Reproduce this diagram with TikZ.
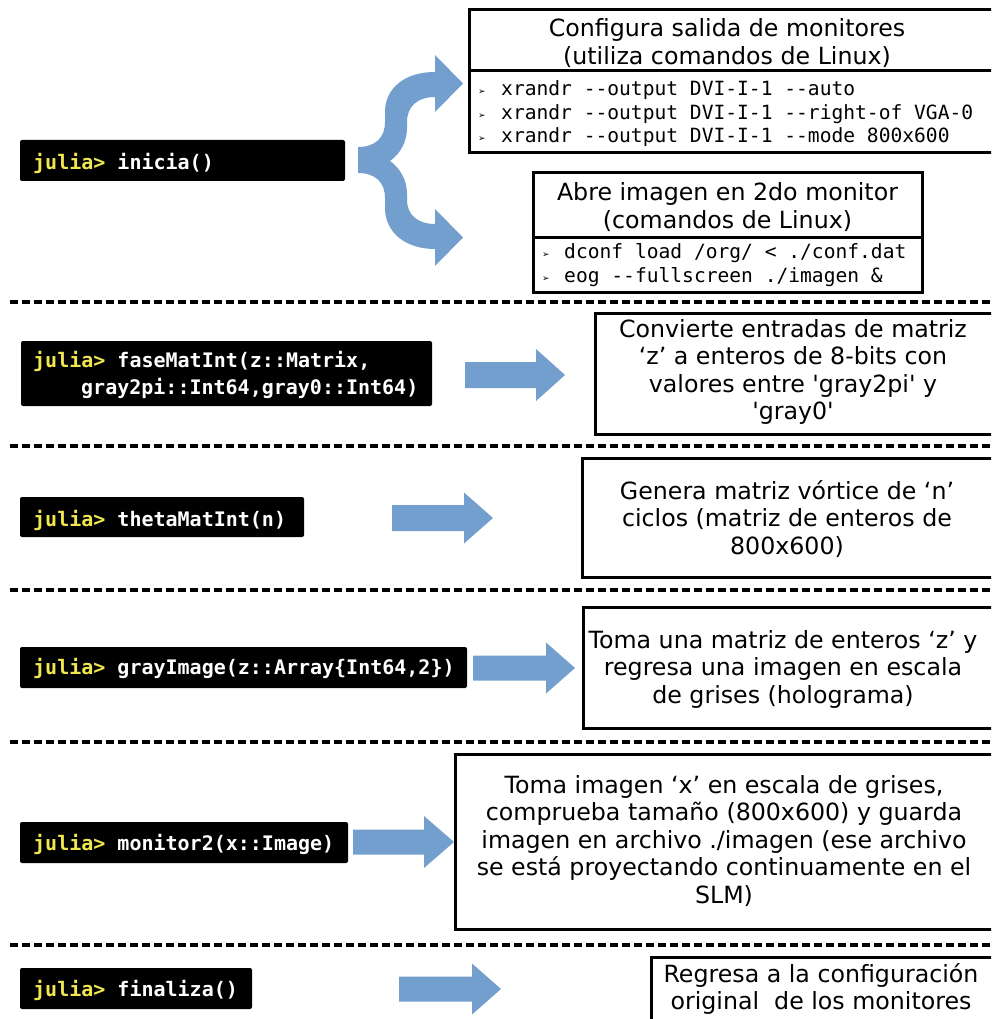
\documentclass[tikz,border=0pt]{standalone}
\usepackage{fontspec}
\setmainfont{DejaVu Sans}
\setmonofont{DejaVu Sans Mono}
\definecolor{arrowblue}{RGB}{115,159,207}
\definecolor{jy}{RGB}{240,230,80}
\newcommand{\barrow}[6]{%
  \fill[arrowblue] (#1,#4-#5) -- (#2,#4-#5) -- (#2,#4-#6) -- (#3,#4) -- (#2,#4+#6) -- (#2,#4+#5) -- (#1,#4+#5) -- cycle;}
\tikzset{
  descbox/.style={draw=black, line width=3pt, fill=white},
  jbox/.style={fill=black, rounded corners=2pt},
  jtext/.style={anchor=base west, inner sep=0pt, text=white, font=\ttfamily\bfseries\fontsize{20}{27}\selectfont},
  desc/.style={align=center, inner sep=0pt, font=\fontsize{23.7}{27.5}\selectfont},
  code/.style={anchor=base west, inner sep=0pt, font=\ttfamily\fontsize{19.6}{23.5}\selectfont},
  bul/.style={anchor=base, inner sep=0pt, font=\fontsize{9}{9}\selectfont},
  sep/.style={line width=3.3pt, dash pattern=on 7.5pt off 4.5pt},
}
\begin{document}
\begin{tikzpicture}[x=1pt,y=-1pt]
\clip (0,0) rectangle (991,1019);
\fill[white] (0,0) rectangle (991,1019);

% separators
\foreach \yy/\nm in {302/s1,446/s2,590/s3,742/s4,945/s5}{
  \coordinate (\nm a) at (10,\yy); \coordinate (\nm b) at (991,\yy);
  \draw[sep] (\nm a) -- (\nm b);
}

% ---------- row 1 ----------
\fill[jbox] (20,140) rectangle (345,181);
\node[jtext] (t1) at (33,170) {\textcolor{jy}{julia>} inicia()};

\fill[arrowblue] (358,147) .. controls (375,147) and (385,138) .. (385,122) -- (385,112)
  .. controls (385,88) and (405,72) .. (435,72) -- (435,55) -- (463,83.5) -- (435,112) -- (435,97)
  .. controls (418,97) and (407,106) .. (407,122) -- (407,128)
  .. controls (407,142) and (400,154) .. (390,161)
  .. controls (400,168) and (407,180) .. (407,194) -- (407,200)
  .. controls (407,215) and (418,224) .. (435,224) -- (435,209) -- (463,237.5) -- (435,266) -- (435,249)
  .. controls (405,249) and (385,232) .. (385,208) -- (385,198)
  .. controls (385,182) and (375,173) .. (358,173) -- cycle;

\draw[descbox] (469,10) rectangle (1000,153);
\draw[line width=3pt] (469,71) -- (1000,71);
\node[desc] (h1) at (727,43) {Configura salida de monitores\\(utiliza comandos de Linux)};
\node[bul] (b11) at (482,95) {➢};
\node[bul] (b12) at (482,118.5) {➢};
\node[bul] (b13) at (482,142) {➢};
\node[code] (c11) at (501,96) {xrandr --output DVI-I-1 --auto};
\node[code] (c12) at (501,119.5) {xrandr --output DVI-I-1 --right-of VGA-0};
\node[code] (c13) at (501,143) {xrandr --output DVI-I-1 --mode 800x600};

\draw[descbox] (533,173) rectangle (922,292);
\draw[line width=3pt] (533,237) -- (922,237);
\node[desc] (h2) at (727.5,207) {Abre imagen en 2do monitor\\(comandos de Linux)};
\node[bul] (b21) at (546,257) {➢};
\node[bul] (b22) at (546,281) {➢};
\node[code] (c21) at (564,258) {dconf load /org/ < ./conf.dat};
\node[code] (c22) at (564,282) {eog --fullscreen ./imagen \&};

% ---------- row 2 ----------
\fill[jbox] (21,341) rectangle (432,406);
\node[jtext] (t2a) at (33,367) {\textcolor{jy}{julia>} faseMatInt(z::Matrix,};
\node[jtext] (t2b) at (81,394) {gray2pi::Int64,gray0::Int64)};
\barrow{465}{536}{565}{375}{13}{26}
\draw[descbox] (595,313) rectangle (1000,434);
\node[desc] (d2) at (793,372) {Convierte entradas de matriz\\‘z’ a enteros de 8-bits con\\valores entre \textquotesingle gray2pi\textquotesingle{} y\\\textquotesingle gray0\textquotesingle};

% ---------- row 3 ----------
\fill[jbox] (20,497) rectangle (304,537);
\node[jtext] (t3) at (33,526) {\textcolor{jy}{julia>} thetaMatInt(n)};
\barrow{392}{464}{493}{518}{13}{25.5}
\draw[descbox] (582,458) rectangle (1000,577);
\node[desc] (d3) at (787,519) {Genera matriz vórtice de ‘n’\\ciclos (matriz de enteros de\\800x600)};

% ---------- row 4 ----------
\fill[jbox] (20,647) rectangle (467,688);
\node[jtext] (t4) at (33,674) {\textcolor{jy}{julia>} grayImage(z::Array\{Int64,2\})};
\barrow{473}{546}{575}{668}{12.5}{25.5}
\draw[descbox] (583,607) rectangle (1000,728);
\node[desc] (d4) at (783,669) {Toma una matriz de enteros ‘z’ y\\regresa una imagen en escala\\de grises (holograma)};

% ---------- row 5 ----------
\fill[jbox] (20,822) rectangle (348,863);
\node[jtext] (t5) at (33,850) {\textcolor{jy}{julia>} monitor2(x::Image)};
\barrow{353}{424}{454}{842}{12.5}{26}
\draw[descbox] (455,754) rectangle (1000,929);
\node[desc] (d5) at (724,841) {Toma imagen ‘x’ en escala de grises,\\comprueba tamaño (800x600) y guarda\\imagen en archivo ./imagen (ese archivo\\se está proyectando continuamente en el\\SLM)};

% ---------- row 6 ----------
\fill[jbox] (20,968) rectangle (252,1009);
\node[jtext] (t6) at (33,996) {\textcolor{jy}{julia>} finaliza()};
\barrow{399}{472}{501}{989}{12.5}{25.5}
\draw[descbox] (651,957) rectangle (1000,1030);
\node[desc] (d6) at (821,989) {Regresa a la configuración\\original\ \ de los monitores};
\end{tikzpicture}
\end{document}
